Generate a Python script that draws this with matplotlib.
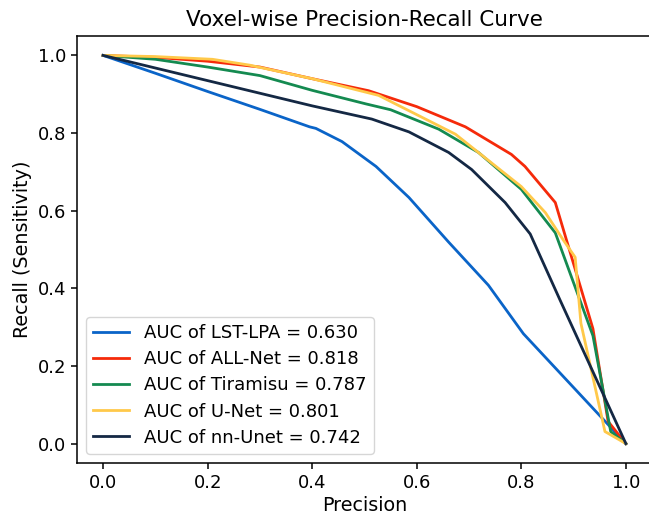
import matplotlib
matplotlib.use("Agg")
import matplotlib.pyplot as plt

title = "Voxel-wise Precision-Recall Curve"
xlabel = "Precision"
ylabel = "Recall (Sensitivity)"

labels = ["AUC of LST-LPA = 0.630", "AUC of ALL-Net = 0.818",
          "AUC of Tiramisu = 0.787", "AUC of U-Net = 0.801",
          "AUC of nn-Unet = 0.742"]
colors = ["#0a64c8", "#f52a0a", "#148a50", "#ffc94a", "#142844"]

lst_x = [0.0, 0.1, 0.2, 0.3, 0.395, 0.407, 0.457, 0.522, 0.585, 0.661, 0.737, 0.804, 1.0]
lst_y = [1.0, 0.954, 0.907, 0.861, 0.816, 0.812, 0.778, 0.714, 0.634, 0.519, 0.408, 0.283, 0.0]

all_x = [0.0, 0.1, 0.2, 0.3, 0.4, 0.508, 0.6, 0.693, 0.781, 0.807, 0.865, 0.937, 0.966, 1.0]
all_y = [1.0, 0.995, 0.985, 0.97, 0.94, 0.909, 0.868, 0.816, 0.745, 0.714, 0.621, 0.296, 0.057, 0.0]

tir_x = [0.0, 0.1, 0.2, 0.3, 0.4, 0.503, 0.55, 0.642, 0.718, 0.8, 0.865, 0.937, 0.971, 1.0]
tir_y = [1.0, 0.99, 0.97, 0.948, 0.91, 0.875, 0.86, 0.81, 0.75, 0.655, 0.543, 0.278, 0.031, 0.0]

unet_x = [0.0, 0.1, 0.209, 0.28, 0.4, 0.527, 0.674, 0.8, 0.846, 0.88, 0.903, 0.914, 0.96, 1.0]
unet_y = [1.0, 0.997, 0.99, 0.975, 0.94, 0.897, 0.797, 0.662, 0.595, 0.525, 0.48, 0.31, 0.031, 0.0]

nn_x = [0.0, 0.2, 0.4, 0.514, 0.585, 0.661, 0.705, 0.769, 0.817, 0.874, 1.0]
nn_y = [1.0, 0.935, 0.87, 0.836, 0.803, 0.75, 0.706, 0.621, 0.54, 0.37, 0.0]

xs = [lst_x, all_x, tir_x, unet_x, nn_x]
ys = [lst_y, all_y, tir_y, unet_y, nn_y]

plt.rcParams["font.size"] = 13
fig = plt.figure(figsize=(6.49, 5.16), dpi=100)
ax = fig.add_axes([77 / 649, 1 - 463 / 516, (652 - 77) / 649, (463 - 36) / 516])
for x, y, c, l in zip(xs, ys, colors, labels):
    ax.plot(x, y, color=c, lw=2, label=l)
ax.set_xlim(-0.05, 1.05)
ax.set_ylim(-0.05, 1.05)
ax.set_xticks([0.0, 0.2, 0.4, 0.6, 0.8, 1.0])
ax.set_yticks([0.0, 0.2, 0.4, 0.6, 0.8, 1.0])
ax.tick_params(labelsize=13, length=4.5, width=1.1)
for s in ax.spines.values():
    s.set_linewidth(1.1)
ax.set_title(title, fontsize=15.5, pad=7)
ax.set_xlabel(xlabel, fontsize=13.8, labelpad=3)
ax.set_ylabel(ylabel, fontsize=13.8)
ax.legend(loc="lower left", fontsize=13, handlelength=2.0, labelspacing=0.45,
          borderpad=0.4, framealpha=0.8)
fig.savefig("out.png", dpi=100)
